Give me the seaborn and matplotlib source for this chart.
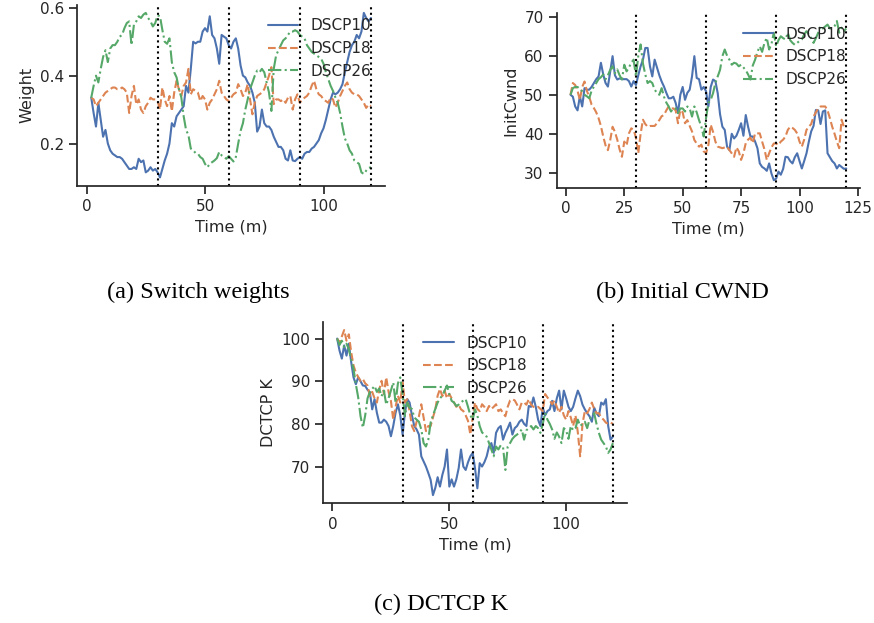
import pandas as pd
import matplotlib
matplotlib.use("Agg")
import matplotlib.pyplot as plt
import seaborn as sns

# time axis in minutes
time = list(range(2, 121))
series_names = ["DSCP10", "DSCP18", "DSCP26"]
phase_marks = [30, 60, 90, 120]

# (a) switch weights
weight_10 = [0.335, 0.29, 0.25, 0.32, 0.27, 0.22, 0.24, 0.2, 0.18, 0.17,
             0.165, 0.16, 0.16, 0.155, 0.145, 0.135, 0.125, 0.125, 0.13, 0.125,
             0.155, 0.145, 0.15, 0.115, 0.12, 0.13, 0.12, 0.125, 0.115, 0.10,
             0.125, 0.15, 0.17, 0.2, 0.26, 0.25, 0.28, 0.29, 0.3, 0.31,
             0.37, 0.35, 0.42, 0.5, 0.495, 0.5, 0.5, 0.53, 0.54, 0.53,
             0.575, 0.52, 0.51, 0.48, 0.435, 0.52, 0.515, 0.51, 0.49, 0.48,
             0.5, 0.51, 0.48, 0.43, 0.4, 0.395, 0.38, 0.37, 0.35, 0.32,
             0.235, 0.25, 0.3, 0.26, 0.25, 0.25, 0.24, 0.22, 0.205, 0.19,
             0.19, 0.18, 0.155, 0.15, 0.18, 0.15, 0.148, 0.155, 0.16, 0.155,
             0.17, 0.175, 0.175, 0.185, 0.19, 0.2, 0.21, 0.23, 0.245, 0.27,
             0.30, 0.33, 0.35, 0.345, 0.35, 0.36, 0.375, 0.41, 0.44, 0.47,
             0.49, 0.50, 0.52, 0.51, 0.53, 0.585, 0.57, 0.56, 0.57]
weight_18 = [0.335, 0.33, 0.31, 0.32, 0.33, 0.34, 0.35, 0.355, 0.36, 0.365,
             0.365, 0.36, 0.36, 0.365, 0.36, 0.35, 0.29, 0.34, 0.37, 0.315,
             0.33, 0.3, 0.29, 0.31, 0.32, 0.335, 0.33, 0.33, 0.325, 0.3,
             0.365, 0.33, 0.31, 0.34, 0.295, 0.35, 0.385, 0.36, 0.34, 0.37,
             0.38, 0.42, 0.345, 0.36, 0.355, 0.35, 0.325, 0.34, 0.33, 0.3,
             0.32, 0.33, 0.345, 0.36, 0.385, 0.35, 0.34, 0.33, 0.325, 0.335,
             0.345, 0.35, 0.375, 0.36, 0.34, 0.35, 0.375, 0.33, 0.286, 0.32,
             0.34, 0.345, 0.35, 0.36, 0.38, 0.4, 0.425, 0.316, 0.33, 0.33,
             0.325, 0.33, 0.32, 0.335, 0.34, 0.3, 0.33, 0.345, 0.32, 0.33,
             0.335, 0.34, 0.35, 0.37, 0.385, 0.36, 0.345, 0.34, 0.33, 0.325,
             0.32, 0.335, 0.33, 0.306, 0.32, 0.34, 0.355, 0.37, 0.38, 0.36,
             0.35, 0.345, 0.345, 0.34, 0.33, 0.32, 0.305, 0.315, 0.31]
weight_26 = [0.335, 0.37, 0.40, 0.38, 0.42, 0.455, 0.475, 0.44, 0.48, 0.49,
             0.49, 0.5, 0.515, 0.52, 0.54, 0.555, 0.56, 0.49, 0.55, 0.56,
             0.575, 0.57, 0.58, 0.585, 0.57, 0.56, 0.545, 0.555, 0.578, 0.575,
             0.535, 0.5, 0.494, 0.51, 0.44, 0.41, 0.395, 0.36, 0.336, 0.28,
             0.24, 0.225, 0.185, 0.18, 0.172, 0.17, 0.16, 0.155, 0.14, 0.13,
             0.14, 0.145, 0.15, 0.157, 0.175, 0.165, 0.16, 0.155, 0.163, 0.155,
             0.147, 0.16, 0.2, 0.237, 0.26, 0.3, 0.33, 0.36, 0.38, 0.4,
             0.415, 0.41, 0.42, 0.41, 0.38, 0.35, 0.296, 0.42, 0.46, 0.475,
             0.49, 0.504, 0.51, 0.52, 0.53, 0.53, 0.534, 0.53, 0.52, 0.515,
             0.51, 0.49, 0.48, 0.47, 0.465, 0.46, 0.455, 0.45, 0.435, 0.41,
             0.39, 0.37, 0.355, 0.336, 0.32, 0.29, 0.25, 0.215, 0.2, 0.18,
             0.17, 0.15, 0.145, 0.14, 0.115, 0.11, 0.12, 0.128, 0.13]

# (b) initial congestion window
cwnd_10 = [50, 49.5, 47, 46, 49.6, 47, 51.7, 51.3, 51.3, 52,
           53, 54, 54.7, 58.2, 55.2, 53, 52.1, 56, 59.9, 55,
           53.9, 54.2, 54, 54, 54, 53.5, 52.1, 53.5, 52.5, 55,
           57.3, 59, 62, 62, 57.3, 54.7, 59, 57, 55, 53.4,
           52.1, 50.5, 49.1, 49.1, 49.5, 47.9, 45.3, 50, 52, 48.7,
           50.5, 51.3, 54.7, 59.9, 54.3, 54, 51.3, 52, 50.9, 47,
           52, 53.9, 53.5, 50.4, 45, 41.8, 41, 36.7, 35.8, 40,
           38.8, 39.5, 41, 42.7, 39.5, 44.8, 41.8, 39.3, 39.3, 38,
           36.3, 32.4, 31.5, 31.1, 30.5, 32.4, 29.8, 28.1, 28.5, 30.3,
           29.5, 31, 34.1, 34, 33, 32.4, 34, 35, 33, 31.1,
           33, 35, 38, 40.6, 42, 46.1, 46, 42.5, 45.7, 46,
           35, 34, 33, 32.4, 31.1, 32, 31.5, 31, 31.1]
cwnd_18 = [50, 53, 52.5, 51, 48.7, 52, 53.4, 51, 49.5, 47.5,
           46.6, 45.5, 44, 42, 39.3, 37, 35.8, 38.4, 41.8, 40.5,
           38.5, 36, 34.1, 38, 37, 40.1, 41.4, 41, 39, 35,
           40, 43.6, 42.5, 41.8, 42, 42, 42, 42.7, 43.5, 44.5,
           44.8, 46, 47, 46.5, 46.5, 46, 42.7, 46.1, 45.5, 42.7,
           43.5, 42, 40.6, 38.4, 37.5, 36.7, 37.2, 35.5, 35, 37.1,
           42.3, 40.5, 38, 36.7, 36.5, 36.3, 36.5, 36.7, 35.8, 35,
           34.1, 36.5, 35.5, 33.3, 35, 37.6, 38.5, 39, 37.6, 40.1,
           40.1, 40.1, 38, 36, 33.3, 35, 36.5, 37.5, 37.5, 37.1,
           38, 38.5, 39.3, 41, 41.8, 41.5, 41, 40.1, 38, 36.7,
           38.5, 41, 41.8, 42.5, 44.4, 45.5, 46.5, 47, 47, 47,
           46, 44, 41.8, 40, 38, 36.3, 43.6, 41.8, 42]
cwnd_26 = [50, 51.7, 52, 52, 51.5, 50.9, 50, 49.6, 49.1, 51,
           52.1, 53, 54, 54.5, 55.2, 54, 55, 56.4, 57.3, 55.5,
           56.5, 55, 53.9, 57.7, 56, 57, 58.2, 59, 54.7, 60,
           62.9, 58, 55.2, 53, 53.5, 53, 51.3, 50.5, 50, 51.7,
           49.5, 48, 47, 45.7, 46.5, 46.5, 45.3, 46.5, 46.5, 45.7,
           47, 46.5, 44.4, 47, 45.5, 43.5, 41.8, 39.3, 44, 47.9,
           48.7, 50.4, 53, 54.7, 56.4, 59.9, 61.6, 60, 59, 57.7,
           58.2, 58, 57.3, 57.7, 57, 56.3, 55.2, 53.9, 57.5, 59,
           61, 62.4, 61, 63.3, 64.6, 61.6, 63, 65.9, 62.4, 64,
           65, 64.5, 64.2, 65.9, 64, 63.3, 62.8, 63.3, 63.8, 64.2,
           65.5, 66.3, 65.5, 64.5, 63.3, 64.5, 65.9, 67.6, 67, 67.5,
           68, 67, 67, 67.6, 68.9, 65.9, 67.2, 66.3, 67]

# (c) DCTCP K
k_10 = [100, 97.2, 95.3, 98.4, 96, 98.8, 94.5, 90.9, 89.3, 90.9,
        90, 89, 88.9, 88, 87.4, 83.4, 85.8, 82.6, 80.3, 80.3,
        81, 80.5, 79.5, 77.1, 79.5, 82.6, 84.6, 82, 77.5, 82.6,
        85.8, 85, 82, 79.5, 78.7, 77.5, 72.4, 71.2, 70, 68.5,
        66.9, 63.3, 65, 67.5, 65.3, 68, 70, 74, 65.3, 67,
        65.3, 67, 69.6, 74, 70, 69.2, 71, 72.4, 73.2, 69.6,
        64.9, 70.8, 70, 71, 72.4, 74.7, 75.5, 73.2, 77.9, 79,
        79.5, 76.3, 77.9, 79, 80.3, 77.5, 79, 79.5, 80.5, 81,
        80, 79.5, 84.2, 84, 86.2, 84, 81, 79.5, 83.8, 82,
        83, 83.4, 85.4, 83, 86, 87.8, 83.4, 87.8, 86, 84,
        83, 84, 86, 87.8, 86.5, 84.5, 83.4, 82.5, 81.8, 80.5,
        83.8, 82.5, 81.8, 85, 84.5, 85.8, 79.5, 76.3, 77]
k_18 = [100, 99, 100.5, 102, 99.5, 101, 96.8, 93.7, 92, 91,
        90.1, 90.5, 89.5, 89, 86.5, 87.5, 86, 85, 88, 90.1,
        87, 90.9, 87.5, 85.4, 81, 84, 86.6, 85, 89.7, 85,
        85.8, 83, 79.5, 78.3, 80.5, 81.8, 84.6, 81.5, 78.3, 79.5,
        79.5, 81.5, 83.4, 86.6, 88.2, 86.5, 87.8, 86, 87, 86,
        85, 84, 84.5, 83.4, 83, 82, 80.7, 77.5, 81.5, 85,
        83.5, 83, 84.6, 84, 83, 84.2, 83.5, 84, 84.6, 83,
        83.4, 82.5, 81.8, 84, 85.5, 85.8, 85.5, 84.5, 83.4, 85,
        85, 84.5, 85.8, 84.5, 84, 83.8, 84, 83.5, 83, 87,
        86.2, 85.5, 84.6, 85.5, 84, 82.6, 84, 82, 81, 83,
        81.5, 79.5, 82, 78, 72.4, 80, 83, 82.5, 83.5, 85,
        83.5, 82.5, 82.5, 81.5, 81, 80.3, 80, 80.3, 80]
k_26 = [100, 98.5, 99.5, 98, 98.8, 97.5, 95, 92.9, 89.3, 86.2,
        81.8, 79.1, 82, 86, 87.5, 88.2, 88.9, 87.5, 88.3, 86.5,
        87.8, 84.5, 86, 87.8, 89.7, 85, 89.5, 90.9, 87, 81.8,
        85, 83.8, 83.5, 81.5, 81, 80.5, 78.7, 75.5, 74.7, 76.3,
        80.3, 82, 83.5, 85, 86, 86.6, 87.8, 89, 87, 85.4,
        85, 84.2, 84.5, 85, 85.5, 85.8, 84, 82, 81, 83.4,
        82, 79.5, 78, 77.5, 77, 75.5, 74, 72.4, 74.7, 74,
        75, 74.5, 69.2, 74.7, 75.5, 76.5, 77.1, 77.5, 78, 78.7,
        76.3, 78.5, 79, 79.5, 78.7, 79.5, 79, 77.9, 80, 82.6,
        81, 80, 78.7, 76.5, 78, 77, 75.5, 79, 78.5, 76.5,
        79.5, 78.5, 79, 81, 79.5, 80, 80.5, 79, 81, 81.8,
        82.5, 80, 77.9, 76.3, 75.5, 74.7, 73.2, 74, 75.5]

sns.set_theme(style="ticks", palette="deep")
plt.rcParams["font.family"] = ["DejaVu Sans"]
plt.rcParams["xtick.labelsize"] = 11
plt.rcParams["ytick.labelsize"] = 11
plt.rcParams["axes.labelsize"] = 11.5
plt.rcParams["legend.fontsize"] = 11

colors = sns.color_palette("deep", 3)
dash_styles = ["-", "--", "-."]


def draw_panel(ax, values, ylabel, xticks, yticks, legend_loc):
    for name, vals, col, ls in zip(series_names, values, colors, dash_styles):
        sns.lineplot(x=time, y=vals, color=col, linestyle=ls, linewidth=1.5,
                     label=name, ax=ax)
    for t in phase_marks:
        ax.axvline(t, color="black", linestyle=":", linewidth=1.5)
    ax.set_xticks(xticks)
    ax.set_yticks(yticks)
    ax.set_xlabel("Time (m)")
    ax.set_ylabel(ylabel)
    ax.legend(frameon=False, loc=legend_loc)
    sns.despine(ax=ax)


fig = plt.figure(figsize=(8.74, 6.23), dpi=100)
ax_a = fig.add_axes([0.0884, 0.702, 0.352, 0.2905])
ax_b = fig.add_axes([0.637, 0.698, 0.347, 0.281])
ax_c = fig.add_axes([0.370, 0.192, 0.347, 0.2915])

draw_panel(ax_a, [weight_10, weight_18, weight_26], "Weight",
           [0, 50, 100], [0.2, 0.4, 0.6], "upper right")
draw_panel(ax_b, [cwnd_10, cwnd_18, cwnd_26], "InitCwnd",
           [0, 25, 50, 75, 100, 125], [30, 40, 50, 60, 70], "upper right")
draw_panel(ax_c, [k_10, k_18, k_26], "DCTCP K",
           [0, 50, 100], [70, 80, 90, 100], "upper center")

cap_font = dict(family=["Liberation Serif"], size=17.5, color="black",
                ha="center", va="center")
fig.text(198 / 874, 1 - 292 / 623, "(a) Switch weights", **cap_font)
fig.text(682 / 874, 1 - 292 / 623, "(b) Initial CWND", **cap_font)
fig.text(441 / 874, 1 - 604 / 623, "(c) DCTCP K", **cap_font)

fig.savefig("out.png", dpi=100)
